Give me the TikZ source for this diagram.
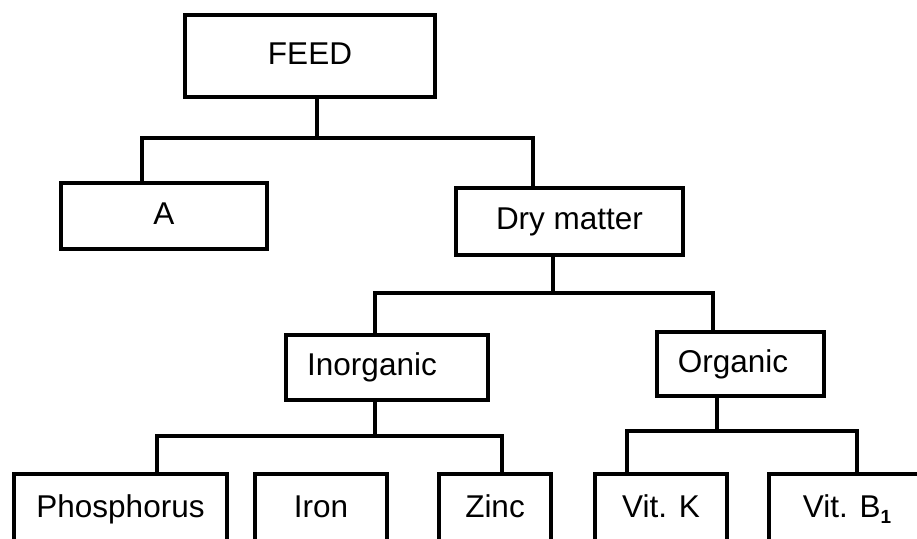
\documentclass[tikz,border=0pt]{standalone}
\usepackage{fontspec}
\setmainfont{Liberation Sans}
\begin{document}
\begin{tikzpicture}[x=1pt,y=-1pt,
  box/.style={draw=black, line width=3.6pt, rectangle, inner sep=0pt,
    font=\fontsize{31.5}{36}\selectfont, text height=22.5pt, text depth=6pt},
  lowbox/.style={box, minimum height=100pt, text depth=36pt},
  conn/.style={draw=black, line width=3.2pt}]
\useasboundingbox (0,0) rectangle (917,538);
\clip (0,0) rectangle (917,538);
% nodes
\node[box, minimum width=250pt, minimum height=82pt] (FEED) at (310,56) {FEED};
\node[box, minimum width=206pt, minimum height=66pt] (A) at (164,216) {A};
\node[box, minimum width=227pt, minimum height=67pt] (DM) at (569.5,221.5) {Dry matter};
\node[box, minimum width=202pt, minimum height=65pt] (IN) at (387,367.5) {\hspace*{-30pt}Inorganic};
\node[box, minimum width=167pt, minimum height=64pt] (OR) at (740.5,364) {\hspace*{-15pt}Organic};
\node[lowbox, minimum width=213pt] (P) at (120.5,524) {Phosphorus};
\node[lowbox, minimum width=132pt] (FE) at (321,524) {Iron};
\node[lowbox, minimum width=112pt] (ZN) at (495,524) {Zinc};
\node[lowbox, minimum width=132pt] (VK) at (661,524) {Vit. K};
\node[lowbox, minimum width=156pt] (VB) at (847,524) {Vit. B\raisebox{-6pt}{\fontsize{19}{19}\selectfont\textbf{1}}};
% junction coordinates
\coordinate (jF) at (317,138);
\coordinate (xA) at (142,0);
\coordinate (xD) at (533,0);
\coordinate (jD) at (553,293);
\coordinate (xI) at (375,0);
\coordinate (xO) at (713,0);
\coordinate (jI) at (375,436);
\coordinate (xP) at (157,0);
\coordinate (xFe) at (327,0);
\coordinate (xZn) at (502,0);
\coordinate (jO) at (717,431);
\coordinate (xVK) at (627,0);
\coordinate (xVB) at (857,0);
% connectors
\draw[conn] (FEED.south -| jF) -- (jF);
\draw[conn] (A.north -| xA) |- (jF) -| (DM.north -| xD);
\draw[conn] (DM.south -| jD) -- (jD);
\draw[conn] (IN.north -| xI) |- (jD) -| (OR.north -| xO);
\draw[conn] (IN.south -| jI) -- (jI);
\draw[conn] (P.north -| xP) |- (jI) -| (ZN.north -| xZn);
\draw[conn] (FE.north -| xFe) -- (FE.north -| xFe |- jI);
\draw[conn] (OR.south -| jO) -- (jO);
\draw[conn] (VK.north -| xVK) |- (jO) -| (VB.north -| xVB);
\end{tikzpicture}
\end{document}
